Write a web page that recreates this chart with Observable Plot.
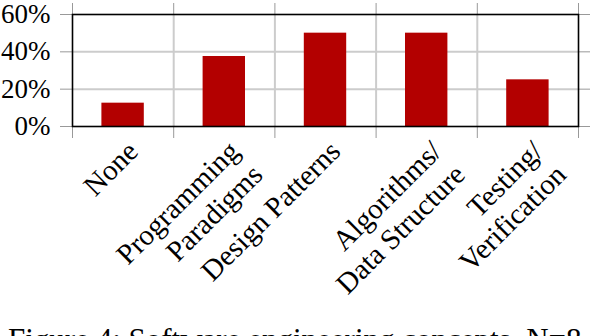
<!DOCTYPE html>
<html>
<head>
<meta charset="utf-8">
<script src="https://cdn.jsdelivr.net/npm/d3@7"></script>
<script src="https://cdn.jsdelivr.net/npm/@observablehq/plot@0.6"></script>
<style>
  html, body { margin: 0; padding: 0; background: #fff; }
  #chart { width: 590px; height: 336px; overflow: hidden; }
  #chart svg text { font-family: "Liberation Serif", serif; }
  #caption {
    font-family: "Liberation Serif", serif;
    font-size: 31px;
    line-height: 1;
    padding-left: 8px;
    padding-top: 4px;
    white-space: nowrap;
    color: #000;
  }
</style>
</head>
<body>
<div id="chart"></div>
<script>
const categories = ["None", "Programming\nParadigms", "Design Patterns", "Algorithms/\nData Structure", "Testing/\nVerification"];
const shares = [12.5, 37.5, 50, 50, 25];
const yTicks = [0, 20, 40, 60];
const captionText = "Figure 4: Software engineering concepts. N=8";

const rows = categories.map((c, i) => ({cat: c, i, value: shares[i]}));
const boundaries = d3.range(categories.length + 1);
const inner = boundaries.slice(1, -1);
const serif = "Liberation Serif";

const plot = Plot.plot({
  width: 590,
  height: 320,
  marginLeft: 72,
  marginRight: 12,
  marginTop: 14,
  marginBottom: 194,
  style: {fontFamily: serif, fontSize: "27px", background: "#fff", color: "#000", overflow: "visible"},
  x: {type: "linear", domain: [0, categories.length], axis: null},
  y: {domain: [0, 60], axis: null},
  marks: [
    Plot.gridY(yTicks.slice(1, -1), {stroke: "#cccccc", strokeOpacity: 1, strokeWidth: 2}),
    Plot.ruleX(inner, {y1: 0, y2: 60, stroke: "#cccccc", strokeWidth: 2}),
    Plot.rectY(rows, {x1: "i", x2: d => d.i + 1, y: "value", fill: "#b30000", insetLeft: 29.4, insetRight: 29.4}),
    Plot.axisX({anchor: "bottom", ticks: boundaries, tickSize: 12, tickFormat: () => "", stroke: "#999", label: null}),
    Plot.axisX({anchor: "top", ticks: boundaries, tickSize: 12, tickFormat: () => "", stroke: "#999", label: null}),
    Plot.axisY({anchor: "left", ticks: yTicks, tickSize: 12, tickPadding: 10, tickFormat: d => d + "%", stroke: "#999", fill: "#000", fontSize: 27, fontFamily: serif, label: null}),
    Plot.axisY({anchor: "right", ticks: yTicks, tickSize: 12, tickFormat: () => "", stroke: "#999", label: null}),
    Plot.frame({stroke: "#000", strokeWidth: 1.6}),
    Plot.text(rows, {
      x: d => d.i + 0.5,
      frameAnchor: "bottom",
      text: "cat",
      rotate: -45,
      textAnchor: "end",
      lineAnchor: "top",
      lineHeight: 1.14,
      dy: 10,
      fontSize: 29,
      fontFamily: serif,
      fill: "#000"
    })
  ]
});
document.getElementById("chart").appendChild(plot);
const cap = document.createElement("div");
cap.id = "caption";
cap.textContent = captionText;
document.getElementById("chart").appendChild(cap);
</script>
</body>
</html>
